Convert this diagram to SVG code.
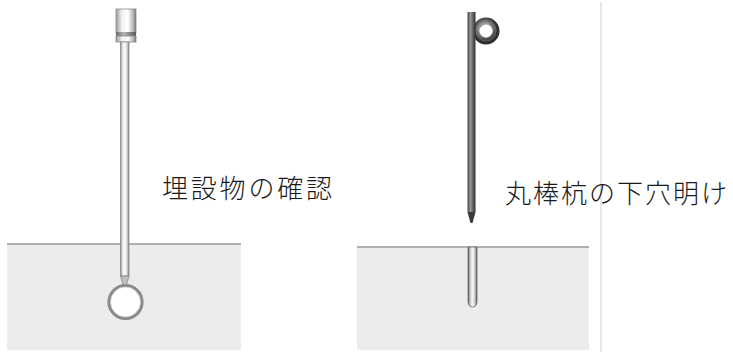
<svg xmlns="http://www.w3.org/2000/svg" width="733" height="352" viewBox="0 0 733 352">
  <style>
    .ground { fill: #ececec; }
    .surface { stroke: #9a9a9a; stroke-width: 1.5; }
    .label { font-family: "Noto Sans CJK JP", "Noto Sans", sans-serif; font-size: 26px; font-weight: 300; fill: #1a1a1a; letter-spacing: 2.8px; }
    .label.tight { letter-spacing: 2px; }
    .divider { stroke: #cfcfcf; stroke-width: 1; }
  </style>
  <defs>
    <!-- bright steel probe, shaded across its width -->
    <linearGradient id="steelLight" x1="0" y1="0" x2="1" y2="0">
      <stop offset="0" stop-color="#8a8a8a"/>
      <stop offset="0.25" stop-color="#e8e8e8"/>
      <stop offset="0.55" stop-color="#ffffff"/>
      <stop offset="0.85" stop-color="#bdbdbd"/>
      <stop offset="1" stop-color="#7a7a7a"/>
    </linearGradient>
    <!-- handle body -->
    <linearGradient id="handle" x1="0" y1="0" x2="1" y2="0">
      <stop offset="0" stop-color="#9a9a9a"/>
      <stop offset="0.3" stop-color="#f2f2f2"/>
      <stop offset="0.6" stop-color="#ffffff"/>
      <stop offset="0.9" stop-color="#a8a8a8"/>
      <stop offset="1" stop-color="#6e6e6e"/>
    </linearGradient>
    <linearGradient id="band" x1="0" y1="0" x2="1" y2="0">
      <stop offset="0" stop-color="#6a6a6a"/>
      <stop offset="0.4" stop-color="#b5b5b5"/>
      <stop offset="1" stop-color="#555"/>
    </linearGradient>
    <!-- dark round bar stake -->
    <linearGradient id="steelDark" x1="0" y1="0" x2="1" y2="0">
      <stop offset="0" stop-color="#3c3c3c"/>
      <stop offset="0.35" stop-color="#9a9a9a"/>
      <stop offset="0.6" stop-color="#6e6e6e"/>
      <stop offset="1" stop-color="#2e2e2e"/>
    </linearGradient>
    <radialGradient id="loopShade" cx="0.45" cy="0.4" r="0.6">
      <stop offset="0.5" stop-color="#9a9a9a"/>
      <stop offset="0.8" stop-color="#5a5a5a"/>
      <stop offset="1" stop-color="#2e2e2e"/>
    </radialGradient>
    <!-- pilot hole left in the soil -->
    <linearGradient id="hole" x1="0" y1="0" x2="1" y2="0">
      <stop offset="0" stop-color="#555"/>
      <stop offset="0.25" stop-color="#cfcfcf"/>
      <stop offset="0.5" stop-color="#f4f4f4"/>
      <stop offset="0.75" stop-color="#cfcfcf"/>
      <stop offset="1" stop-color="#555"/>
    </linearGradient>
  </defs>

  <!-- divider between the two panels -->
  <line class="divider" x1="601" y1="2" x2="601" y2="352"/>

  <!-- left panel: locating buried objects -->
  <g id="ground-left">
    <rect class="ground" x="7" y="244" width="234" height="106"/>
    <line class="surface" x1="7" y1="244" x2="241" y2="244"/>
  </g>

  <g id="probe">
    <!-- handle -->
    <rect x="116" y="9" width="20" height="24" fill="url(#handle)" stroke="#8a8a8a" stroke-width="0.8"/>
    <rect x="116" y="32" width="20" height="4" fill="url(#band)"/>
    <rect x="116" y="36" width="20" height="6" fill="url(#handle)" stroke="#8a8a8a" stroke-width="0.8"/>
    <!-- shaft -->
    <rect x="120.5" y="42" width="8.5" height="234" fill="url(#steelLight)" stroke="#8c8c8c" stroke-width="0.8"/>
    <path d="M120.5 276 L129 276 L126.5 285 L123 285 Z" fill="#bdbdbd" stroke="#8c8c8c" stroke-width="0.8"/>
  </g>

  <g id="buried-pipe">
    <circle cx="125.5" cy="302" r="16.5" fill="#ffffff" stroke="#8a8a8a" stroke-width="3.2"/>
    <circle cx="125.5" cy="302" r="15" fill="none" stroke="#d0d0d0" stroke-width="0.8"/>
  </g>

  <g id="label-left">
    <text class="label" x="162" y="198">埋設物の確認</text>
  </g>

  <!-- right panel: pilot hole for a round bar stake -->
  <g id="ground-right">
    <rect class="ground" x="357" y="247" width="232" height="103"/>
    <line class="surface" x1="357" y1="247" x2="589" y2="247"/>
  </g>

  <g id="pilot-hole">
    <path d="M468 247 L468 301 Q468 307 472.5 307 Q477 307 477 301 L477 247 Z" fill="url(#hole)" stroke="#6a6a6a" stroke-width="0.8"/>
  </g>

  <g id="stake">
    <!-- eye loop at the top -->
    <circle cx="486" cy="31" r="10" fill="none" stroke="url(#loopShade)" stroke-width="7"/>
    <circle cx="486" cy="31" r="10" fill="none" stroke="#7a7a7a" stroke-width="1.2" opacity="0.6"/>
    <!-- bar -->
    <rect x="467.5" y="12" width="8" height="200" fill="url(#steelDark)"/>
    <path d="M467.5 212 L475.5 212 L472.5 223 L470.5 223 Z" fill="#3a3a3a"/>
  </g>

  <g id="label-right">
    <text class="label tight" x="505" y="203">丸棒杭の下穴明け</text>
  </g>
</svg>
